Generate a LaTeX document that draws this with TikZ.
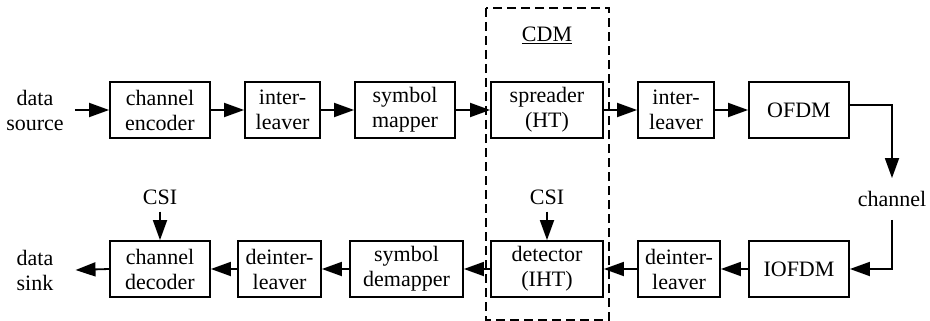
\documentclass[tikz,border=0pt]{standalone}
\usepackage{fontspec}
\setmainfont{Liberation Serif}
\usetikzlibrary{arrows.meta,calc}
\begin{document}
\begin{tikzpicture}[x=1pt,y=-1pt,
  every node/.style={font=\fontsize{22}{25}\selectfont, align=center},
  blk/.style={draw, line width=1.8pt, minimum height=56pt, inner sep=0pt},
  conn/.style={line width=1.8pt, -{Triangle[length=20pt,width=14pt]}},
  lbl/.style={inner sep=0pt}
]
\useasboundingbox (0,0) rectangle (930,321);
% dashed CDM box
\draw[dashed, line width=1.4pt, dash pattern=on 9pt off 5pt] (486,8) rectangle (609,320);
\node[lbl] (cdm) at (547,35) {\underline{CDM}};
% top row
\node[blk, minimum width=100pt] (enc) at (160,110) {channel\\encoder};
\node[blk, minimum width=75pt] (il1) at (282.5,110) {inter-\\leaver};
\node[blk, minimum width=100pt] (map) at (405,110) {symbol\\mapper};
\node[blk, minimum width=112pt] (spr) at (547,110) {spreader\\(HT)};
\node[blk, minimum width=76pt] (il2) at (676,110) {inter-\\leaver};
\node[blk, minimum width=100pt] (ofdm) at (799,110) {OFDM};
% bottom row
\node[blk, minimum width=100pt] (dec) at (160,269) {channel\\decoder};
\node[blk, minimum width=83pt] (dil1) at (279.5,269) {deinter-\\leaver};
\node[blk, minimum width=113pt] (dmap) at (406.5,269) {symbol\\demapper};
\node[blk, minimum width=112pt] (det) at (547,269) {detector\\(IHT)};
\node[blk, minimum width=82pt] (dil2) at (679,269) {deinter-\\leaver};
\node[blk, minimum width=100pt] (iofdm) at (799,269) {IOFDM};
% labels
\node[lbl, inner xsep=11pt] (src) at (35,110) {data\\source};
\node[lbl, inner xsep=22pt] (sink) at (35,270) {data\\sink};
\node[lbl, inner ysep=13pt] (chan) at (892,199) {channel};
\node[lbl, inner ysep=7pt] (csi1) at (160,197) {CSI};
\node[lbl, inner ysep=7pt] (csi2) at (547,197) {CSI};
% connectors
\draw[conn] (src.east) -- (enc.west);
\draw[conn] (enc) -- (il1);
\draw[conn] (il1) -- (map);
\draw[conn] (map) -- (spr);
\draw[conn] (spr) -- (il2);
\draw[conn] (il2) -- (ofdm);
\draw[conn] ($(ofdm.east)+(0,-5)$) -| (chan.north);
\draw[conn] (chan.south) |- (iofdm.east);
\draw[conn] (iofdm) -- (dil2);
\draw[conn] (dil2) -- (det);
\draw[conn] (det) -- (dmap);
\draw[conn] (dmap) -- (dil1);
\draw[conn] (dil1) -- (dec);
\draw[conn] (dec.west) -- (sink.east);
\draw[conn] (csi1) -- (dec);
\draw[conn] (csi2) -- (det);
\end{tikzpicture}
\end{document}
